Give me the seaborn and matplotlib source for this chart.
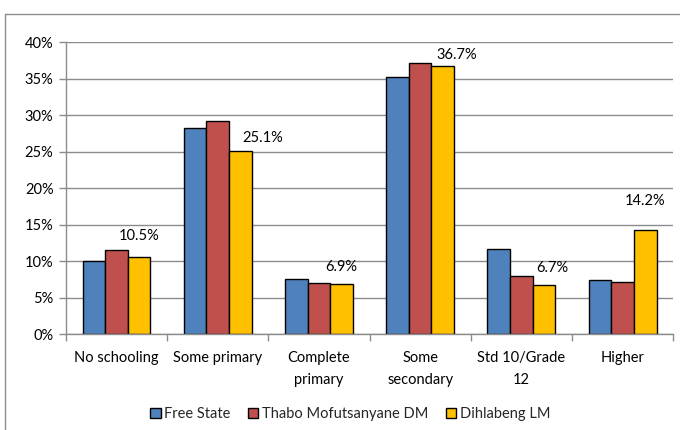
import matplotlib
matplotlib.use("Agg")
import matplotlib.pyplot as plt
from matplotlib.lines import Line2D
from matplotlib.ticker import FuncFormatter, MultipleLocator, FixedLocator
import seaborn as sns
import pandas as pd

categories = ["No schooling", "Some primary", "Complete\nprimary", "Some\nsecondary",
              "Std 10/Grade\n12", "Higher"]
series_names = ["Free State", "Thabo Mofutsanyane DM", "Dihlabeng LM"]
free_state = [10.0, 28.2, 7.5, 35.2, 11.6, 7.4]
thabo = [11.5, 29.2, 7.0, 37.2, 7.9, 7.2]
dihlabeng = [10.5, 25.1, 6.9, 36.7, 6.7, 14.2]
colors = ["#4F81BD", "#C0504D", "#FFC000"]

rows = []
for name, vals in zip(series_names, [free_state, thabo, dihlabeng]):
    for c, v in zip(categories, vals):
        rows.append({"Category": c, "Series": name, "Value": v})
df = pd.DataFrame(rows)

sns.set_theme(style="white")
plt.rcParams["font.family"] = ["Lato", "DejaVu Sans"]

fig = plt.figure(figsize=(6.8, 4.3), dpi=100)
ax = fig.add_axes([0.097, 0.223, 0.893, 0.679])

sns.barplot(data=df, x="Category", y="Value", hue="Series", order=categories,
            hue_order=series_names, palette=colors, width=0.67, gap=0,
            edgecolor="black", linewidth=1.0, saturation=1, ax=ax, legend=True,
            errorbar=None)

ax.set_ylim(0, 40)
ax.set_xlim(-0.5, len(categories) - 0.5)
ax.yaxis.set_major_locator(MultipleLocator(5))
ax.yaxis.set_major_formatter(FuncFormatter(lambda v, p: f"{int(v)}%"))
ax.grid(axis="y", color="#8C8C8C", linewidth=1.0)
ax.set_axisbelow(True)
ax.set_xlabel("")
ax.set_ylabel("")

for s in ["top", "right"]:
    ax.spines[s].set_visible(False)
for s in ["left", "bottom"]:
    ax.spines[s].set_color("#8C8C8C")
    ax.spines[s].set_linewidth(1.0)

ax.tick_params(axis="y", which="major", length=5, color="#8C8C8C", width=1,
               labelsize=10.5, labelcolor="black", pad=4, left=True)
ax.tick_params(axis="x", which="major", length=0, labelsize=10.5,
               labelcolor="black", pad=12)
ax.xaxis.set_minor_locator(FixedLocator([i - 0.5 for i in range(len(categories) + 1)]))
ax.tick_params(axis="x", which="minor", length=5, color="#8C8C8C", width=1, bottom=True)
for lbl in ax.get_xticklabels():
    lbl.set_linespacing(1.75)
    lbl.set_verticalalignment("top")

# data labels on the Dihlabeng bars (pixel offsets mimic the reference placement)
label_offsets = [(0, 21), (22, 13), (0, 17), (14, 11), (8, 17), (0, 29)]
for patch, v, (dx, dy) in zip(ax.containers[2], dihlabeng, label_offsets):
    cx = patch.get_x() + patch.get_width() / 2
    ax.annotate(f"{v:.1f}%", xy=(cx, patch.get_height()), xytext=(dx, dy),
                textcoords="offset pixels", ha="center", va="center",
                fontsize=10.5, color="black")

leg = ax.legend(loc="center", bbox_to_anchor=(0.515, 0.037),
                bbox_transform=fig.transFigure, ncol=3, frameon=False,
                fontsize=10.5, handlelength=0.7, handleheight=0.7,
                handletextpad=0.25, columnspacing=1.2)

fig.add_artist(Line2D([5 / 680, 5 / 680], [0, 1 - 14 / 430], color="#8C8C8C",
                      linewidth=1.0, transform=fig.transFigure))
fig.add_artist(Line2D([5 / 680, 1], [1 - 14 / 430, 1 - 14 / 430], color="#8C8C8C",
                      linewidth=1.0, transform=fig.transFigure))

fig.savefig("out.png", dpi=100)
